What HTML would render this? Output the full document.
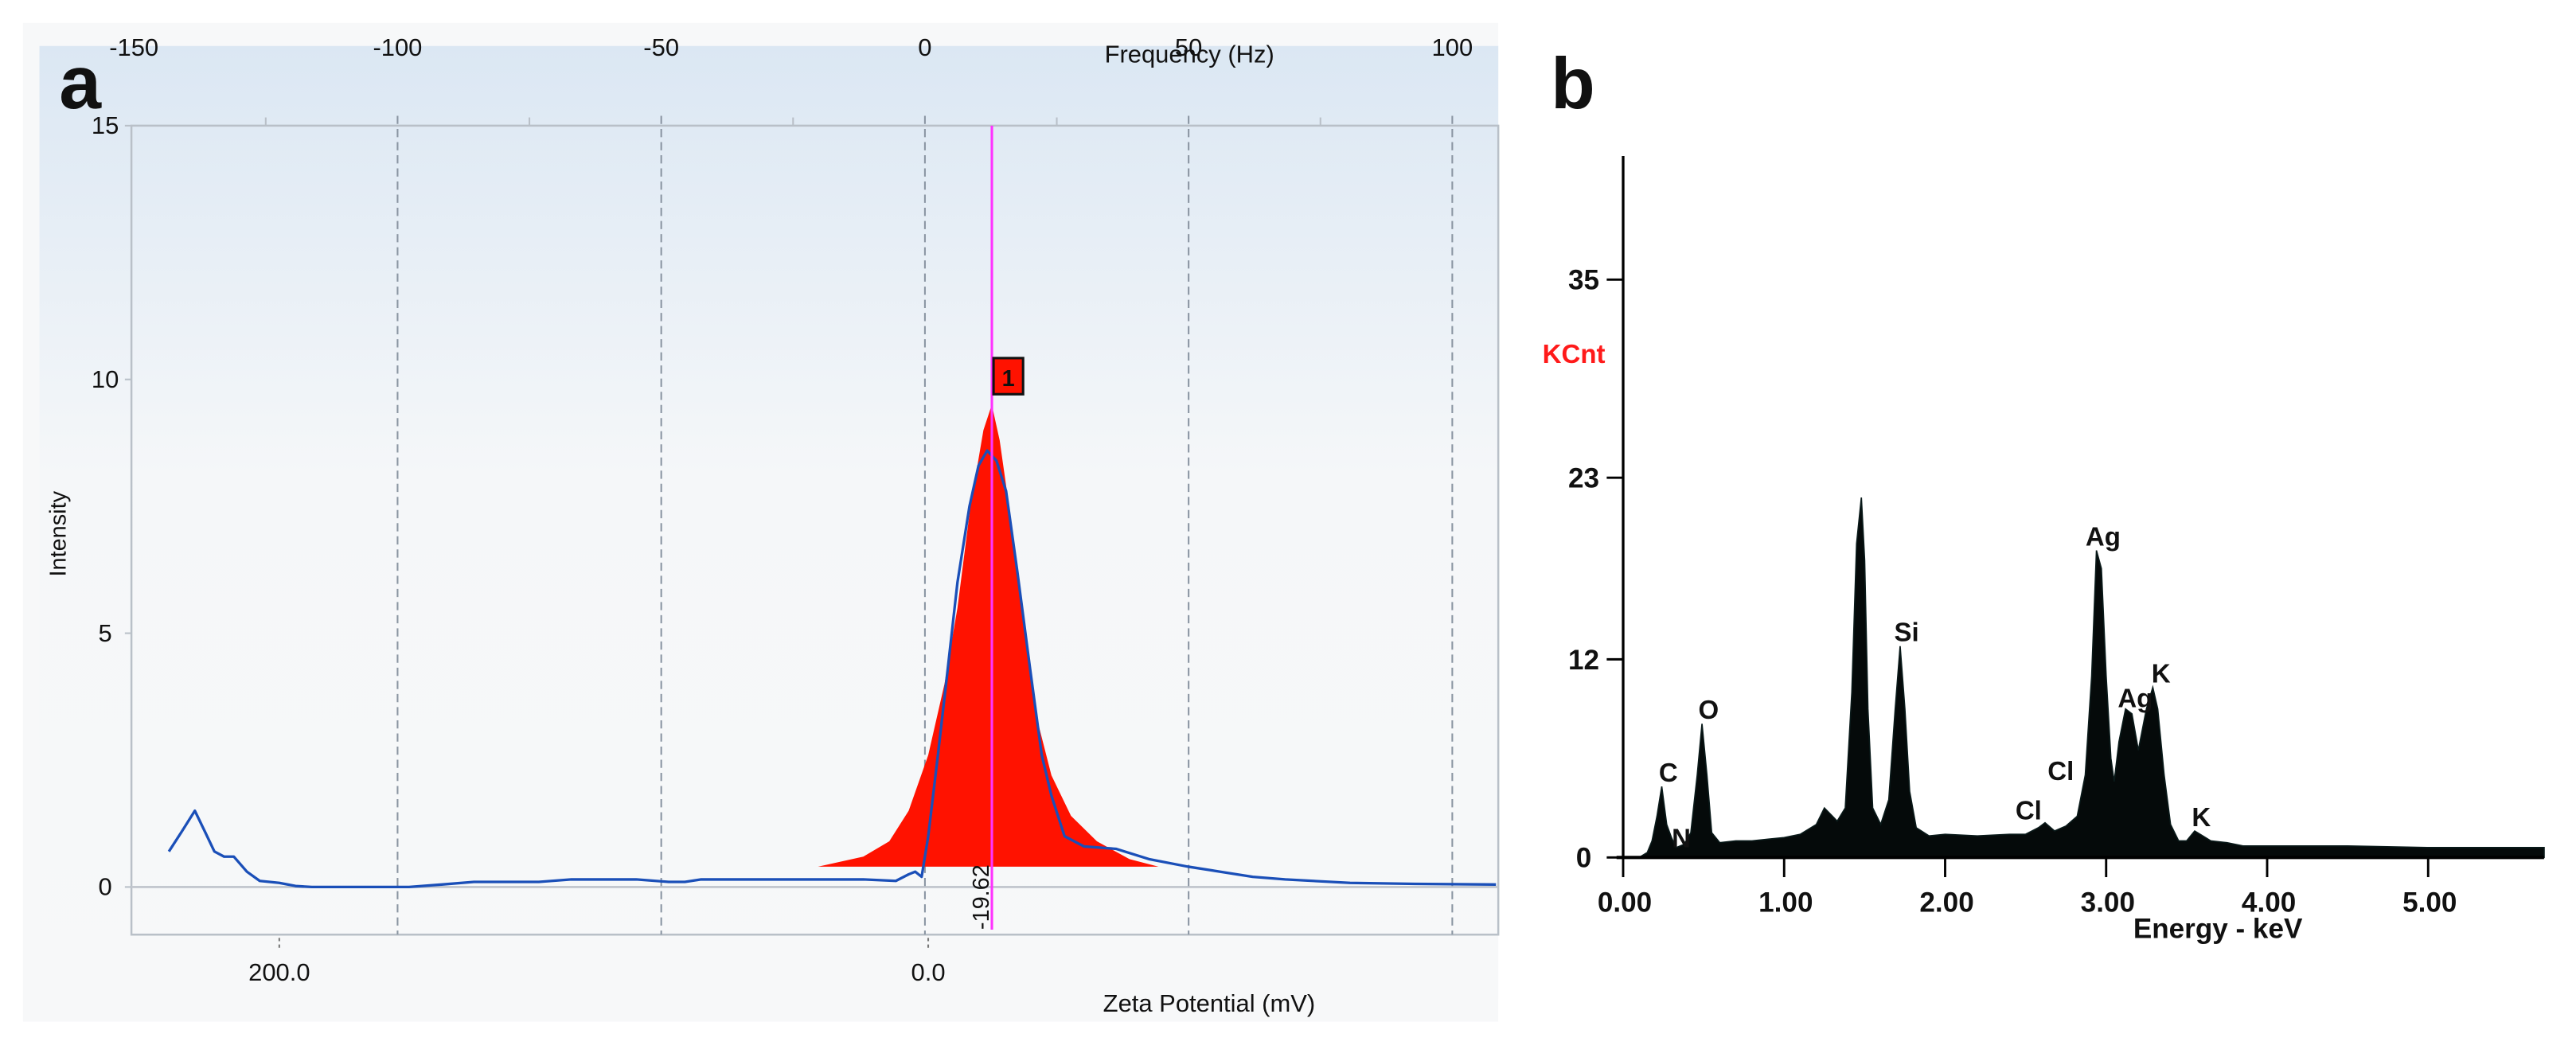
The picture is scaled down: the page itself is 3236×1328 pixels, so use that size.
<!DOCTYPE html>
<html><head><meta charset="utf-8"><style>
html,body{margin:0;padding:0;background:#fff;}
svg{display:block;}
.t{font-family:"Liberation Sans Narrow","Liberation Sans",sans-serif;fill:#111;}
.b{font-family:"Liberation Sans",sans-serif;font-weight:bold;fill:#111;}
</style></head><body>
<svg id="fig" width="3236" height="1328" viewBox="0 0 1568 643.5" preserveAspectRatio="none" xmlns="http://www.w3.org/2000/svg">
<defs>
<linearGradient id="bg" x1="0" y1="0" x2="0" y2="1">
<stop offset="0" stop-color="#dbe7f3"/><stop offset="0.45" stop-color="#f5f7f9"/><stop offset="1" stop-color="#f7f8f9"/>
</linearGradient>
</defs>
<rect x="14" y="14" width="898" height="608" fill="#f7f8f9"/>
<rect x="24" y="28" width="888" height="580" fill="url(#bg)"/>
<g id="pa"></g>
<g id="pb"></g>
</svg>
<script>
// ---------- Panel a data ----------
const freqTicks = [-150,-100,-50,0,50,100];
const yTicksA = [0,5,10,15];
const zetaTickVals = [200,0];
const zetaTickLabels = ["200.0","0.0"];
const blueZeta = [234,230,226,223,220,217,214,210,206,200,195,190,170,160,150,140,120,110,100,90,80,75,70,50,30,20,10,6,4,2,0,-3,-6,-9,-12.7,-15.5,-18.2,-21,-24,-27.5,-31.4,-35,-38,-42,-48,-58,-68,-80,-90,-100,-110,-130,-150,-175];
const blueInt = [0.7,1.1,1.5,1.1,0.7,0.6,0.6,0.3,0.12,0.08,0.02,0,0,0,0.05,0.1,0.1,0.15,0.15,0.15,0.1,0.1,0.15,0.15,0.15,0.15,0.12,0.25,0.3,0.2,1.0,2.6,4.3,6.0,7.5,8.3,8.6,8.4,7.8,6.2,4.3,2.6,1.8,1.0,0.8,0.75,0.55,0.4,0.3,0.2,0.15,0.08,0.06,0.05];
const redZeta = [34,20,12,6,0,-5,-9,-13,-17,-19.62,-22,-26,-30,-34,-38,-44,-52,-62,-71];
const redInt = [0.4,0.6,0.9,1.5,2.6,4.0,5.5,7.5,9.0,9.5,8.8,7.0,5.0,3.2,2.2,1.4,0.9,0.55,0.4];
const peakZeta = -19.62;
const peakLabel = "-19.62";

// ---------- Panel b data ----------
const edsYTicks = [0,12,23,35];
const edsXTicks = [0,1,2,3,4,5];
const edsXLabels = ["0.00","1.00","2.00","3.00","4.00","5.00"];
const edsE = [0,0.1,0.15,0.18,0.21,0.24,0.27,0.30,0.33,0.38,0.42,0.46,0.49,0.52,0.55,0.60,0.70,0.80,0.90,1.00,1.10,1.20,1.25,1.30,1.33,1.38,1.42,1.45,1.48,1.50,1.52,1.55,1.60,1.65,1.69,1.72,1.75,1.78,1.82,1.90,2.00,2.20,2.40,2.50,2.58,2.62,2.68,2.75,2.82,2.87,2.91,2.94,2.97,3.00,3.03,3.05,3.08,3.12,3.16,3.20,3.25,3.29,3.32,3.36,3.40,3.45,3.50,3.55,3.60,3.65,3.75,3.85,4.00,4.50,5.00,5.50,5.72];
const edsC = [0,0,0.3,1.0,2.5,4.3,2.0,1.2,0.6,0.8,1.5,5.0,8.1,5.0,1.5,0.9,1.0,1.0,1.1,1.2,1.4,2.0,3.0,2.5,2.2,3.0,10,19,21.8,18,9,3.0,2.0,3.5,9,12.8,9,4,1.8,1.3,1.4,1.3,1.4,1.4,1.8,2.1,1.6,1.9,2.5,5,11,18.6,17.5,11,6,4.6,7,9.0,8.7,6.5,9.0,10.3,9,5,2.0,1.0,1.0,1.6,1.3,1.0,0.9,0.7,0.7,0.7,0.6,0.6,0.6];
const elemNames = ["C","N","O","Si","Cl","Cl","Ag","Ag","K","K"];
const elemE = [0.24,0.30,0.49,1.72,2.60,2.80,2.94,3.14,3.30,3.55];
const elemC = [4.3,1.2,8.1,12.8,2.1,4.5,18.6,8.8,10.3,1.6];

const NS="http://www.w3.org/2000/svg";
function mk(tag,attrs,parent,txt){const e=document.createElementNS(NS,tag);for(const k in attrs)e.setAttribute(k,attrs[k]);if(txt!==undefined)e.textContent=txt;parent.appendChild(e);return e;}

const fx = f => 563 + f*3.21;
const zx = z => 565 - z*1.975;
const ya = v => 540 - v*30.9;
const FB = 569;
const pa = document.getElementById('pa');
let e;
e=mk('rect',{x:80,y:ya(15),width:832,height:FB-ya(15),fill:'none',stroke:'#b9c0c8','stroke-width':1.2},pa);


e=mk('line',{x1:80,x2:912,y1:ya(0),y2:ya(0),stroke:'#c3c8cf','stroke-width':1.4},pa);


freqTicks.forEach(f=>{
  if(f>-150){
    e=mk('line',{x1:fx(f),x2:fx(f),y1:ya(15)-6,y2:FB,stroke:'#8a95a2','stroke-width':1,'stroke-dasharray':'5,3'},pa);
    
    
  }
  e=mk('text',{x:fx(f),y:34,'text-anchor':'middle','font-size':15,class:'t'},pa,String(f));
  
  
});
[-125,-75,-25,25,75].forEach(f=>{mk('line',{x1:fx(f),x2:fx(f),y1:ya(15)-5,y2:ya(15),stroke:'#b9c0c8'},pa);});
e=mk('text',{x:724,y:38,'text-anchor':'middle','font-size':15,class:'t'},pa,'Frequency (Hz)');


yTicksA.forEach(v=>{
  e=mk('text',{x:64,y:ya(v)+5,'text-anchor':'middle','font-size':15,class:'t'},pa,String(v));
  
  
  mk('line',{x1:76,x2:80,y1:ya(v),y2:ya(v),stroke:'#b9c0c8'},pa);
});
zetaTickVals.forEach((z,i)=>{
  mk('line',{x1:zx(z),x2:zx(z),y1:FB+2,y2:FB+9,stroke:'#777','stroke-dasharray':'2,2'},pa);
  e=mk('text',{x:zx(z),y:597,'text-anchor':'middle','font-size':15,class:'t'},pa,zetaTickLabels[i]);
  
  
});
e=mk('text',{x:736,y:616,'text-anchor':'middle','font-size':15,class:'t'},pa,'Zeta Potential (mV)');


e=mk('text',{x:40,y:325,'text-anchor':'middle','font-size':14,class:'t',transform:'rotate(-90 40 325)'},pa,'Intensity');


e=mk('text',{x:36,y:66,'font-size':46,class:'b'},pa,'a');



let d='M'+zx(redZeta[0])+','+ya(0.4);
redZeta.forEach((z,i)=>{d+=' L'+zx(z).toFixed(1)+','+ya(redInt[i]).toFixed(1);});
d+=' L'+zx(redZeta[redZeta.length-1])+','+ya(0.4)+' Z';
e=mk('path',{d:d,fill:'#ff1200'},pa);


let pts=blueZeta.map((z,i)=>zx(z).toFixed(1)+','+ya(blueInt[i]).toFixed(1)).join(' ');
e=mk('polyline',{points:pts,fill:'none',stroke:'#1a4fb8','stroke-width':1.6,'stroke-linejoin':'round'},pa);


const mxp=zx(peakZeta);
e=mk('line',{x1:mxp,x2:mxp,y1:ya(15),y2:566,stroke:'#ff33ff','stroke-width':1.5},pa);


e=mk('rect',{x:mxp+1,y:218,width:18,height:22,fill:'#ff1200',stroke:'#111','stroke-width':1.5},pa);


mk('text',{x:mxp+10,y:235,'text-anchor':'middle','font-size':14,class:'b'},pa,'1');
e=mk('text',{x:mxp-2,y:566,'font-size':14,class:'t',transform:'rotate(-90 '+(mxp-2)+' 566)'},pa,peakLabel);



// ---------- Panel b ----------
const pb=document.getElementById('pb');
const ex = v => 988 + v*98;
const cy = v => 522 - v*10.05;
e=mk('text',{x:944,y:66,'font-size':44,class:'b'},pb,'b');


let dd='M'+ex(edsE[0])+','+cy(0);
edsE.forEach((v,i)=>{dd+=' L'+ex(v).toFixed(1)+','+cy(edsC[i]).toFixed(1);});
dd+=' L'+ex(edsE[edsE.length-1]).toFixed(1)+','+cy(0)+' Z';
e=mk('path',{d:dd,fill:'#050a0a',stroke:'#0a1a1a','stroke-width':0.8},pb);


e=mk('line',{x1:988,x2:988,y1:95,y2:cy(0)+1,stroke:'#000','stroke-width':1.6},pb);


e=mk('line',{x1:984,x2:ex(5.72),y1:cy(0),y2:cy(0),stroke:'#000','stroke-width':2},pb);


edsYTicks.forEach(v=>{
  mk('line',{x1:978,x2:988,y1:cy(v),y2:cy(v),stroke:'#000','stroke-width':1.4},pb);
  e=mk('text',{x:964,y:cy(v)+6,'text-anchor':'middle','font-size':17,class:'b'},pb,String(v));
  
  
});
edsXTicks.forEach((v,i)=>{
  mk('line',{x1:ex(v),x2:ex(v),y1:cy(0),y2:cy(0)+12,stroke:'#000','stroke-width':1.4},pb);
  e=mk('text',{x:ex(v)+1,y:555,'text-anchor':'middle','font-size':17,class:'b'},pb,edsXLabels[i]);
  
  
});
e=mk('text',{x:1350,y:571,'text-anchor':'middle','font-size':17,class:'b'},pb,'Energy - keV');


e=mk('text',{x:958,y:221,'text-anchor':'middle','font-size':16,class:'b',style:'fill:#ff1a1a'},pb,'KCnt');


elemNames.forEach((n,i)=>{
  const off={N:[6,6],Cl:[-8,-2]}[n]||[4,-3];
  e=mk('text',{x:ex(elemE[i])+off[0],y:cy(elemC[i])+off[1],'text-anchor':'middle','font-size':16,class:'b'},pb,n);
  
  
});
</script>
</body></html>
